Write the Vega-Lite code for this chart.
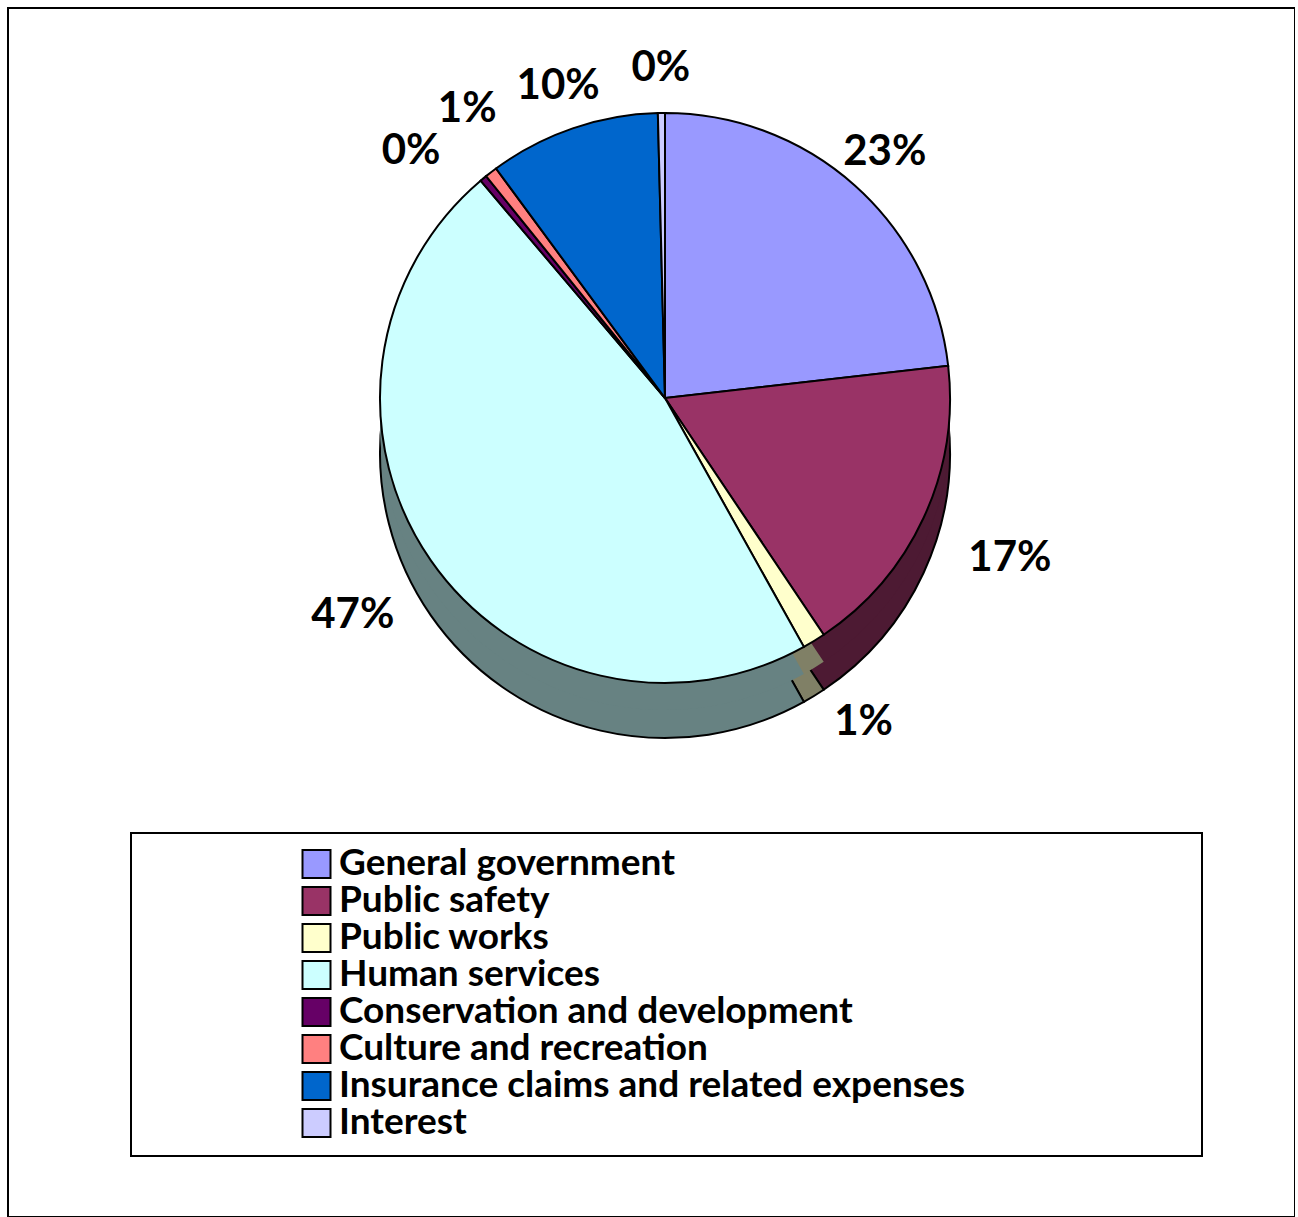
{
  "$schema": "https://vega.github.io/schema/vega-lite/v6.json",
  "autosize": "none",
  "padding": {"left": 8, "top": 8, "right": 0, "bottom": 0},
  "width": 1287,
  "height": 1209,
  "background": "white",
  "config": {
    "view": {"stroke": "black", "strokeWidth": 2},
    "font": "Lato",
    "legend": {
      "strokeColor": "black",
      "strokeWidth": 2,
      "fillColor": "white",
      "padding": 15,
      "symbolType": "square",
      "symbolSize": 784,
      "symbolStrokeColor": "black",
      "symbolStrokeWidth": 2,
      "labelFont": "Lato",
      "labelFontSize": 37,
      "labelFontWeight": "bold",
      "labelColor": "black",
      "labelLimit": 1000,
      "rowPadding": 0,
      "clipHeight": 32,
      "symbolOffset": 152,
      "labelOffset": 4,
      "titleOrient": "right",
      "titleFontSize": 10,
      "titlePadding": 222
    }
  },
  "data": {
    "values": [
      {"category": "General government", "share": 0.232, "idx": 1},
      {"category": "Public safety", "share": 0.174, "idx": 2},
      {"category": "Public works", "share": 0.013, "idx": 3},
      {"category": "Human services", "share": 0.469, "idx": 4},
      {"category": "Conservation and development", "share": 0.004, "idx": 5},
      {"category": "Culture and recreation", "share": 0.007, "idx": 6},
      {"category": "Insurance claims and related expenses", "share": 0.097, "idx": 7},
      {"category": "Interest", "share": 0.004, "idx": 8}
    ]
  },
  "layer": [
    {
      "layer": [
        {
          "mark": {"type": "arc", "outerRadius": 285, "yOffset": 55, "stroke": "black", "strokeWidth": 2},
          "encoding": {
            "x": {"value": 657},
            "y": {"value": 390},
            "theta": {"field": "share", "type": "quantitative", "stack": true},
            "order": {"field": "idx", "type": "quantitative"},
            "color": {
              "field": "category", "type": "nominal", "legend": null,
              "scale": {
                "domain": ["General government", "Public safety", "Public works", "Human services", "Conservation and development", "Culture and recreation", "Insurance claims and related expenses", "Interest"],
                "range": ["#4D4D80", "#4D1A33", "#808066", "#678282", "#330033", "#804040", "#003366", "#666680"]
              }
            }
          }
        },
        {
          "mark": {"type": "arc", "outerRadius": 285, "yOffset": 27, "strokeWidth": 0},
          "encoding": {
            "x": {"value": 657},
            "y": {"value": 390},
            "theta": {"field": "share", "type": "quantitative", "stack": true},
            "order": {"field": "idx", "type": "quantitative"},
            "color": {"field": "category", "type": "nominal", "legend": null}
          }
        }
      ]
    },
    {
      "layer": [
        {
          "mark": {"type": "arc", "outerRadius": 285, "stroke": "black", "strokeWidth": 2},
          "encoding": {
            "x": {"value": 657},
            "y": {"value": 390},
            "theta": {"field": "share", "type": "quantitative", "stack": true},
            "order": {"field": "idx", "type": "quantitative"},
            "color": {
              "field": "category", "type": "nominal",
              "scale": {
                "domain": ["General government", "Public safety", "Public works", "Human services", "Conservation and development", "Culture and recreation", "Insurance claims and related expenses", "Interest"],
                "range": ["#9999FF", "#993366", "#FFFFCC", "#CCFFFF", "#660066", "#FF8080", "#0066CC", "#CCCCFF"]
              },
              "legend": {"orient": "none", "legendX": 123, "legendY": 825, "title": "\u00a0"}
            }
          }
        },
        {
          "mark": {"type": "text", "radius": 330, "font": "Lato", "fontSize": 42, "fontWeight": "bold", "fill": "black"},
          "encoding": {
            "x": {"value": 657},
            "y": {"value": 390},
            "theta": {"field": "share", "type": "quantitative", "stack": true},
            "order": {"field": "idx", "type": "quantitative"},
            "detail": {"field": "category", "type": "nominal"},
            "text": {"field": "share", "type": "quantitative", "format": ".0%"},
            "opacity": {"condition": {"test": "datum.idx == 1 || datum.idx == 7 || datum.idx == 8", "value": 1}, "value": 0}
          }
        },
        {
          "mark": {"type": "text", "radius": 380, "font": "Lato", "fontSize": 42, "fontWeight": "bold", "fill": "black"},
          "encoding": {
            "x": {"value": 657},
            "y": {"value": 390},
            "theta": {"field": "share", "type": "quantitative", "stack": true},
            "order": {"field": "idx", "type": "quantitative"},
            "detail": {"field": "category", "type": "nominal"},
            "text": {"field": "share", "type": "quantitative", "format": ".0%"},
            "opacity": {"condition": {"test": "datum.idx == 2 || datum.idx == 3 || datum.idx == 4", "value": 1}, "value": 0}
          }
        },
        {
          "mark": {"type": "text", "radius": 320, "dx": -50, "font": "Lato", "fontSize": 42, "fontWeight": "bold", "fill": "black"},
          "encoding": {
            "x": {"value": 657},
            "y": {"value": 390},
            "theta": {"field": "share", "type": "quantitative", "stack": true},
            "order": {"field": "idx", "type": "quantitative"},
            "detail": {"field": "category", "type": "nominal"},
            "text": {"field": "share", "type": "quantitative", "format": ".0%"},
            "opacity": {"condition": {"test": "datum.idx == 5", "value": 1}, "value": 0}
          }
        },
        {
          "mark": {"type": "text", "radius": 365, "dx": 25, "font": "Lato", "fontSize": 42, "fontWeight": "bold", "fill": "black"},
          "encoding": {
            "x": {"value": 657},
            "y": {"value": 390},
            "theta": {"field": "share", "type": "quantitative", "stack": true},
            "order": {"field": "idx", "type": "quantitative"},
            "detail": {"field": "category", "type": "nominal"},
            "text": {"field": "share", "type": "quantitative", "format": ".0%"},
            "opacity": {"condition": {"test": "datum.idx == 6", "value": 1}, "value": 0}
          }
        }
      ]
    }
  ],
  "resolve": {"scale": {"color": "independent"}}
}
